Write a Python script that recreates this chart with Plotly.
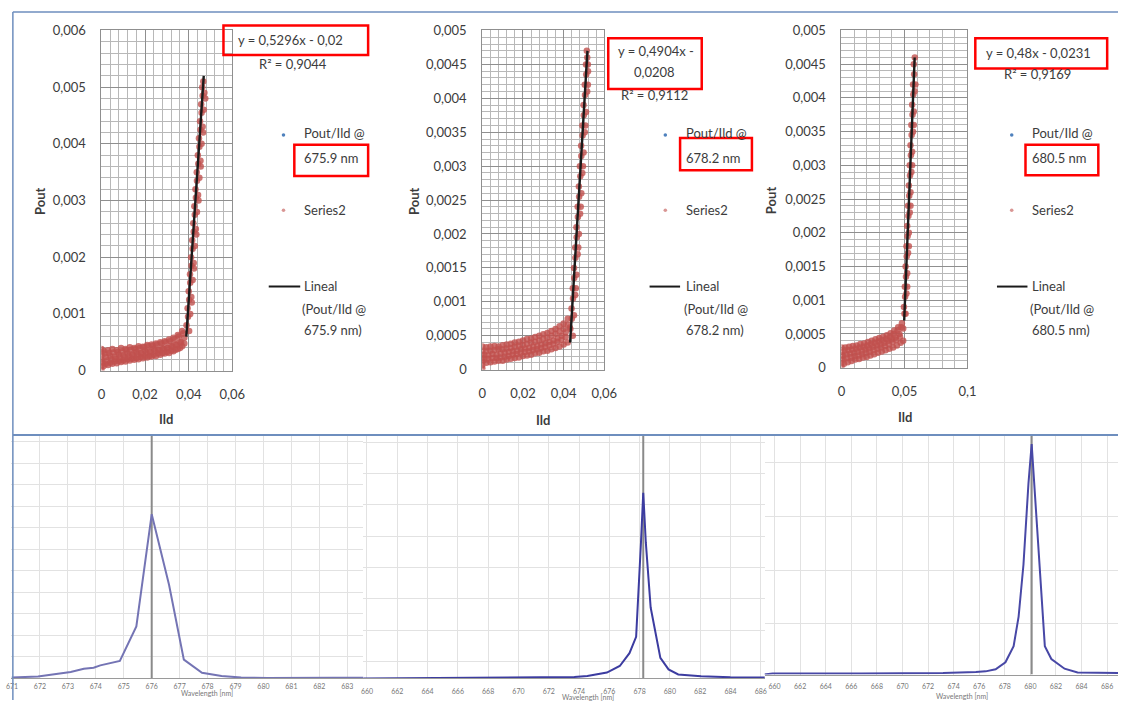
import plotly.graph_objects as go

W, H = 1131, 708

# ---------------- top row: Pout vs Ild (three wavelengths) ----------------
wavelength_labels = ["675.9 nm", "678.2 nm", "680.5 nm"]
equations = ["y = 0,5296x - 0,02", "y = 0,4904x -|0,0208", "y = 0,48x - 0,0231"]
r2_texts = ["R² = 0,9044", "R² = 0,9112", "R² = 0,9169"]

# Series2 points, panel 1 (675.9 nm): flat band then steep band
s1_x = [0, 0, 0, 0, 0, 0, 0,
        0.001, 0.002, 0.003, 0.004, 0.005, 0.006, 0.007, 0.008, 0.009, 0.010, 0.011, 0.012, 0.013,
        0.014, 0.015, 0.016, 0.017, 0.018, 0.019, 0.020, 0.021, 0.022, 0.023, 0.024, 0.025, 0.026,
        0.027, 0.028, 0.029, 0.030, 0.031, 0.032, 0.033, 0.034, 0.035, 0.036, 0.037, 0.038,
        0.002, 0.004, 0.006, 0.008, 0.010, 0.012, 0.014, 0.016, 0.018, 0.020, 0.022, 0.024, 0.026,
        0.028, 0.030, 0.032, 0.034, 0.036, 0.038,
        0.001, 0.003, 0.005, 0.007, 0.009, 0.011, 0.013, 0.015, 0.017, 0.019, 0.021, 0.023, 0.025,
        0.027, 0.029, 0.031, 0.033, 0.035, 0.037,
        0.0390, 0.0397, 0.0402, 0.0395, 0.0402, 0.0407, 0.0400, 0.0407, 0.0412, 0.0406, 0.0413,
        0.0418, 0.0411, 0.0418, 0.0423, 0.0416, 0.0423, 0.0428, 0.0421, 0.0428, 0.0433, 0.0426,
        0.0433, 0.0438, 0.0431, 0.0438, 0.0443, 0.0437, 0.0444, 0.0449, 0.0442, 0.0449, 0.0454,
        0.0447, 0.0454, 0.0459, 0.0452, 0.0459, 0.0464, 0.0457, 0.0464, 0.0469, 0.0462, 0.0467,
        0.0472]
s1_y = [0.00002, 0.00008, 0.00014, 0.0002, 0.00026, 0.00032, 0.00038,
        0.00008, 0.00012, 0.0001, 0.00014, 0.00012, 0.00016, 0.00013, 0.00017, 0.00015, 0.00018,
        0.00016, 0.0002, 0.00018, 0.00021, 0.00019, 0.00022, 0.0002, 0.00024, 0.00022, 0.00025,
        0.00023, 0.00026, 0.00025, 0.00028, 0.00026, 0.0003, 0.00028, 0.00031, 0.0003, 0.00033,
        0.00031, 0.00035, 0.00034, 0.00037, 0.00038, 0.0004, 0.00043, 0.00048,
        0.00024, 0.00026, 0.00025, 0.00028, 0.00027, 0.0003, 0.00029, 0.00033, 0.00031, 0.00035,
        0.00034, 0.00038, 0.00037, 0.0004, 0.0004, 0.00044, 0.00046, 0.0005, 0.00058,
        0.00035, 0.00036, 0.00038, 0.00036, 0.0004, 0.00038, 0.00041, 0.0004, 0.00043, 0.00042,
        0.00045, 0.00046, 0.00048, 0.0005, 0.00052, 0.00055, 0.00058, 0.00063, 0.0007,
        0.0008, 0.00095, 0.0007, 0.0011, 0.00125, 0.0010, 0.0014, 0.00155, 0.0013, 0.0017, 0.00185,
        0.0016, 0.0020, 0.00215, 0.0019, 0.0023, 0.00245, 0.0022, 0.0026, 0.00275, 0.0025, 0.0029,
        0.00305, 0.0028, 0.0032, 0.00335, 0.0031, 0.0035, 0.00365, 0.0034, 0.0038, 0.00395, 0.0037,
        0.0041, 0.00425, 0.0040, 0.0044, 0.00455, 0.0043, 0.0047, 0.00485, 0.0046, 0.0050, 0.0051,
        0.0049]
s1_extra_x = [0.0005, 0.0025, 0.0045, 0.0065, 0.0085, 0.0105, 0.0125, 0.0145, 0.0165, 0.0185,
              0.0205, 0.0225, 0.0245, 0.0265, 0.0285, 0.0305, 0.0325, 0.0345, 0.0365,
              0.0015, 0.0035, 0.0055, 0.0075, 0.0095, 0.0115, 0.0135, 0.0155, 0.0175, 0.0195,
              0.0215, 0.0235, 0.0255, 0.0275, 0.0295, 0.0315, 0.0335, 0.0355, 0.0375,
              0.0414, 0.0424, 0.0435, 0.0445, 0.0455, 0.0466, 0.0476]
s1_extra_y = [0.00015, 0.00018, 0.0002, 0.00021, 0.00023, 0.00024, 0.00026, 0.00027, 0.00029,
              0.0003, 0.00032, 0.00033, 0.00035, 0.00036, 0.00038, 0.0004, 0.00042, 0.00045, 0.0005,
              0.0003, 0.00031, 0.00032, 0.00033, 0.00034, 0.00036, 0.00037, 0.00038, 0.0004,
              0.00041, 0.00043, 0.00044, 0.00046, 0.00048, 0.0005, 0.00052, 0.00055, 0.0006,
              0.00066,
              0.0012, 0.0018, 0.0024, 0.0030, 0.0036, 0.0042, 0.0048]

# Series2 points, panel 2 (678.2 nm)
s2_x = [0, 0, 0, 0, 0, 0, 0,
        0.002, 0.004, 0.006, 0.008, 0.010, 0.012, 0.014, 0.016, 0.018, 0.020, 0.022, 0.024, 0.026,
        0.028, 0.030, 0.032, 0.034, 0.036, 0.038, 0.040, 0.042,
        0.001, 0.003, 0.005, 0.007, 0.009, 0.011, 0.013, 0.015, 0.017, 0.019, 0.021, 0.023, 0.025,
        0.027, 0.029, 0.031, 0.033, 0.035, 0.037, 0.039, 0.041, 0.043,
        0.002, 0.004, 0.006, 0.008, 0.010, 0.012, 0.014, 0.016, 0.018, 0.020, 0.022, 0.024, 0.026,
        0.028, 0.030, 0.032, 0.034, 0.036, 0.038, 0.040, 0.042,
        0.0433, 0.0440, 0.0445, 0.0439, 0.0446, 0.0451, 0.0445, 0.0452, 0.0457, 0.0451, 0.0458,
        0.0463, 0.0457, 0.0464, 0.0469, 0.0463, 0.0470, 0.0475, 0.0469, 0.0476, 0.0481, 0.0475,
        0.0482, 0.0487, 0.0480, 0.0487, 0.0492, 0.0486, 0.0493, 0.0498, 0.0492, 0.0499, 0.0504,
        0.0498, 0.0505, 0.0510, 0.0504, 0.0511, 0.0516, 0.0510, 0.0516, 0.0520, 0.0514, 0.0519]
s2_y = [0.00002, 0.00007, 0.00012, 0.00017, 0.00022, 0.00028, 0.00034,
        0.0001, 0.00011, 0.00012, 0.00013, 0.00013, 0.00015, 0.00016, 0.00017, 0.00018, 0.0002,
        0.00021, 0.00022, 0.00024, 0.00025, 0.00027, 0.00028, 0.0003, 0.00032, 0.00034, 0.00037,
        0.0004,
        0.00022, 0.00021, 0.00023, 0.00022, 0.00024, 0.00025, 0.00026, 0.00027, 0.00028, 0.0003,
        0.00031, 0.00032, 0.00034, 0.00035, 0.00037, 0.00039, 0.00041, 0.00043, 0.00046, 0.0005,
        0.00055, 0.00062,
        0.00033, 0.00034, 0.00035, 0.00034, 0.00036, 0.00037, 0.00038, 0.0004, 0.00041, 0.00043,
        0.00045, 0.00046, 0.00048, 0.0005, 0.00052, 0.00054, 0.00057, 0.0006, 0.00064, 0.00068,
        0.00075,
        0.0006, 0.00075, 0.0005, 0.0009, 0.00105, 0.0008, 0.0012, 0.00135, 0.0011, 0.0015, 0.00165,
        0.0014, 0.0018, 0.00195, 0.0017, 0.0021, 0.00225, 0.002, 0.0024, 0.00255, 0.0023, 0.0027,
        0.00285, 0.0026, 0.0030, 0.00315, 0.0029, 0.0033, 0.00345, 0.0032, 0.0036, 0.00375, 0.0035,
        0.0039, 0.00405, 0.0038, 0.0042, 0.00435, 0.0041, 0.0045, 0.0046, 0.0044, 0.0047, 0.0045]
s2_extra_x = [0.001, 0.003, 0.005, 0.007, 0.009, 0.011, 0.013, 0.015, 0.017, 0.019, 0.021,
              0.023, 0.025, 0.027, 0.029, 0.031, 0.033, 0.035, 0.037, 0.039, 0.041,
              0.002, 0.004, 0.006, 0.008, 0.010, 0.012, 0.014, 0.016, 0.018, 0.020, 0.022,
              0.024, 0.026, 0.028, 0.030, 0.032, 0.034, 0.036, 0.038, 0.040, 0.042,
              0.0460, 0.0472, 0.0484, 0.0495, 0.0507, 0.0519]
s2_extra_y = [0.00015, 0.00016, 0.00017, 0.00017, 0.00018, 0.00019, 0.0002, 0.00022, 0.00023,
              0.00025, 0.00026, 0.00027, 0.00029, 0.0003, 0.00032, 0.00034, 0.00036, 0.00038,
              0.00041, 0.00044, 0.00048,
              0.00028, 0.00028, 0.00029, 0.0003, 0.0003, 0.00031, 0.00032, 0.00034, 0.00035,
              0.00036, 0.00038, 0.0004, 0.00041, 0.00043, 0.00045, 0.00047, 0.0005, 0.00053,
              0.00056, 0.0006, 0.00066,
              0.0012, 0.0018, 0.0024, 0.0030, 0.0036, 0.0042]

# Series2 points, panel 3 (680.5 nm)
s3_x = [0, 0, 0, 0, 0, 0,
        0.002, 0.005, 0.008, 0.011, 0.014, 0.017, 0.020, 0.023, 0.026, 0.029, 0.032, 0.035, 0.038,
        0.041, 0.044, 0.047, 0.049,
        0.001, 0.004, 0.007, 0.010, 0.013, 0.016, 0.019, 0.022, 0.025, 0.028, 0.031, 0.034, 0.037,
        0.040, 0.043, 0.046, 0.049,
        0.003, 0.006, 0.009, 0.012, 0.015, 0.018, 0.021, 0.024, 0.027, 0.030, 0.033, 0.036, 0.039,
        0.042, 0.045, 0.048, 0.050,
        0.0496, 0.0505, 0.0509, 0.0503, 0.0512, 0.0516, 0.0509, 0.0518, 0.0522, 0.0516, 0.0525,
        0.0529, 0.0522, 0.0531, 0.0535, 0.0529, 0.0538, 0.0542, 0.0535, 0.0544, 0.0548, 0.0542,
        0.0551, 0.0555, 0.0548, 0.0557, 0.0561, 0.0555, 0.0564, 0.0568, 0.0561, 0.0570, 0.0574,
        0.0568, 0.0577, 0.0581, 0.0574, 0.0582]
s3_y = [0.00002, 0.00007, 0.00012, 0.00018, 0.00024, 0.0003,
        0.00006, 0.00008, 0.0001, 0.00012, 0.00013, 0.00015, 0.00016, 0.00018, 0.0002, 0.00022,
        0.00024, 0.00026, 0.00028, 0.0003, 0.00033, 0.00037, 0.0004,
        0.00018, 0.0002, 0.00021, 0.00022, 0.00024, 0.00025, 0.00027, 0.00029, 0.00031, 0.00033,
        0.00035, 0.00037, 0.0004, 0.00042, 0.00045, 0.0005, 0.00058,
        0.0003, 0.00031, 0.00032, 0.00033, 0.00035, 0.00036, 0.00038, 0.0004, 0.00042, 0.00044,
        0.00046, 0.00048, 0.00051, 0.00055, 0.0006, 0.00066, 0.0008,
        0.0009, 0.00105, 0.0008, 0.0012, 0.00135, 0.0011, 0.0015, 0.00165, 0.0014, 0.0018, 0.00195,
        0.0017, 0.0021, 0.00225, 0.002, 0.0024, 0.00255, 0.0023, 0.0027, 0.00285, 0.0026, 0.0030,
        0.00315, 0.0029, 0.0033, 0.00345, 0.0032, 0.0036, 0.00375, 0.0035, 0.0039, 0.00405, 0.0038,
        0.0042, 0.00435, 0.0041, 0.0045, 0.0046]
s3_extra_x = [0.0015, 0.0045, 0.0075, 0.0105, 0.0135, 0.0165, 0.0195, 0.0225, 0.0255, 0.0285,
              0.0315, 0.0345, 0.0375, 0.0405, 0.0435, 0.0465,
              0.0025, 0.0055, 0.0085, 0.0115, 0.0145, 0.0175, 0.0205, 0.0235, 0.0265, 0.0295,
              0.0325, 0.0355, 0.0385, 0.0415, 0.0445, 0.0475,
              0.0522, 0.0535, 0.0548, 0.0561, 0.0574, 0.0587]
s3_extra_y = [0.00012, 0.00014, 0.00015, 0.00017, 0.00018, 0.0002, 0.00022, 0.00024, 0.00026,
              0.00028, 0.0003, 0.00032, 0.00035, 0.00038, 0.00041, 0.00046,
              0.00025, 0.00026, 0.00027, 0.00028, 0.0003, 0.00031, 0.00033, 0.00035, 0.00037,
              0.00039, 0.00041, 0.00043, 0.00046, 0.0005, 0.00055, 0.0006,
              0.0012, 0.0018, 0.0024, 0.0030, 0.0036, 0.0042]

trend1_x, trend1_y = [0.0389, 0.0469], [0.0006, 0.0052]
trend2_x, trend2_y = [0.0432, 0.0517], [0.0004, 0.0047]
trend3_x, trend3_y = [0.0498, 0.0581], [0.0007, 0.0046]

p1_yticks = [0, 0.001, 0.002, 0.003, 0.004, 0.005, 0.006]
p1_ylabels = ["0", "0,001", "0,002", "0,003", "0,004", "0,005", "0,006"]
p23_yticks = [0, 0.0005, 0.001, 0.0015, 0.002, 0.0025, 0.003, 0.0035, 0.004, 0.0045, 0.005]
p23_ylabels = ["0", "0,0005", "0,001", "0,0015", "0,002", "0,0025", "0,003", "0,0035",
               "0,004", "0,0045", "0,005"]
p12_xticks = [0, 0.02, 0.04, 0.06]
p12_xlabels = ["0", "0,02", "0,04", "0,06"]
p3_xticks = [0, 0.05, 0.1]
p3_xlabels = ["0", "0,05", "0,1"]

# ---------------- bottom row: spectra ----------------
specA_nm = [670.99, 671.93, 673.10, 673.57, 673.92, 674.16, 674.86, 675.45, 676.0, 676.62,
            677.15, 677.80, 678.5, 679.2, 680.14, 681.32, 682.48, 683.66]
specA_int = [0.05, 0.09, 0.30, 0.45, 0.5, 0.61, 0.82, 2.42, 7.64, 4.36, 0.88, 0.27, 0.12, 0.05,
             0.02, 0.01, 0.03, 0.03]
specB_nm = [659.75, 668.97, 673.69, 674.55, 675.84, 676.69, 677.33, 677.77, 677.94, 678.09,
            678.24, 678.41, 678.73, 679.37, 679.91, 680.55, 682.06, 683.99, 686.77]
specB_int = [0.0, 0.03, 0.05, 0.08, 0.19, 0.40, 0.81, 1.33, 2.79, 4.35, 5.94, 4.35, 2.27, 0.66,
             0.29, 0.13, 0.07, 0.04, 0.03]
specC_nm = [659.08, 659.85, 666.77, 673.18, 675.74, 676.5, 677.28, 678.05, 678.69, 679.08,
            679.46, 679.85, 680.1, 680.31, 680.62, 681.13, 681.64, 682.67, 683.69, 684.72, 686.85]
specC_int = [0.0, 0.02, 0.02, 0.03, 0.05, 0.06, 0.1, 0.23, 0.53, 1.08, 2.05, 3.56, 4.29, 3.56,
             2.35, 0.53, 0.29, 0.11, 0.04, 0.04, 0.03]
cursor_nm = [676.0, 678.24, 680.1]

specA_ticks = [671, 672, 673, 674, 675, 676, 677, 678, 679, 680, 681, 682, 683]
specBC_ticks = [660, 662, 664, 666, 668, 670, 672, 674, 676, 678, 680, 682, 684, 686]


def px(x):
    return x / W


def py(y):
    return 1 - y / H


FONT = "Lato, 'Open Sans', sans-serif"
TXT = "#3c3c3c"
RED = "#C0504D"

fig = go.Figure()

top_sets = [
    (s1_x + s1_extra_x, s1_y + s1_extra_y, trend1_x, trend1_y, "x", "y"),
    (s2_x + s2_extra_x, s2_y + s2_extra_y, trend2_x, trend2_y, "x2", "y2"),
    (s3_x + s3_extra_x, s3_y + s3_extra_y, trend3_x, trend3_y, "x3", "y3"),
]
for sx, sy, tx, ty, xa, ya in top_sets:
    fig.add_trace(go.Scatter(x=sx, y=sy, mode="markers", xaxis=xa, yaxis=ya,
                             marker=dict(size=6.5, color=RED, opacity=0.8,
                                         line=dict(width=0)),
                             showlegend=False, hoverinfo="skip"))
    fig.add_trace(go.Scatter(x=tx, y=ty, mode="lines", xaxis=xa, yaxis=ya,
                             line=dict(color="#1a1a1a", width=2.4),
                             showlegend=False, hoverinfo="skip"))

spec_sets = [
    (specA_nm, specA_int, "x4", "y4", "#7474B4", 11.27),
    (specB_nm, specB_int, "x5", "y5", "#3C3CA0", 7.75),
    (specC_nm, specC_int, "x6", "y6", "#4848A6", 4.44),
]
for (nm, inten, xa, ya, col, top), cur in zip(spec_sets, cursor_nm):
    fig.add_trace(go.Scatter(x=[cur, cur], y=[0, top], mode="lines", xaxis=xa, yaxis=ya,
                             line=dict(color="#8a8a8a", width=2),
                             showlegend=False, hoverinfo="skip"))
    fig.add_trace(go.Scatter(x=nm, y=inten, mode="lines", xaxis=xa, yaxis=ya,
                             line=dict(color=col, width=2),
                             showlegend=False, hoverinfo="skip"))

grid_major = "#8f8f8f"
grid_minor = "#b8b8b8"


def top_x(dom, rng, tv, tt, minor, anchor):
    return dict(domain=dom, range=rng, tickvals=tv, ticktext=tt, showgrid=True,
                gridcolor=grid_major, gridwidth=1, zeroline=False, showline=True,
                linecolor=grid_major, mirror=True, ticks="", anchor=anchor,
                minor=dict(dtick=minor, showgrid=True, gridcolor=grid_minor, gridwidth=1),
                tickfont=dict(family=FONT, size=13, color=TXT), ticklabelstandoff=12)


def top_y(dom, rng, tv, tt, minor, anchor):
    return dict(domain=dom, range=rng, tickvals=tv, ticktext=tt, showgrid=True,
                gridcolor=grid_major, gridwidth=1, zeroline=False, showline=True,
                linecolor=grid_major, mirror=True, ticks="", anchor=anchor,
                minor=dict(dtick=minor, showgrid=True, gridcolor=grid_minor, gridwidth=1),
                tickfont=dict(family=FONT, size=13, color=TXT), ticklabelstandoff=12)


def spec_x(dom, rng, tv, anchor, standoff):
    return dict(domain=dom, range=rng, tickvals=tv, ticktext=[str(v) for v in tv],
                showgrid=True, gridcolor="#e2e2e2", zeroline=False, showline=True,
                linecolor="#9a9a9a", ticks="", anchor=anchor,
                tickfont=dict(family=FONT, size=7, color="#777777"), ticklabelstandoff=standoff)


def spec_y(dom, rng, t0, anchor):
    return dict(domain=dom, range=rng, tick0=t0, dtick=1, showgrid=True, gridcolor="#e2e2e2",
                zeroline=False, showticklabels=False, ticks="", anchor=anchor, showline=False)


fig.update_layout(
    width=W, height=H, margin=dict(l=0, r=0, t=0, b=0),
    paper_bgcolor="white", plot_bgcolor="white", showlegend=False,
    xaxis=top_x([px(98), px(231)], [0, 0.06], p12_xticks, p12_xlabels, 0.004, "y"),
    yaxis=top_y([py(371), py(23)], [0, 0.006], p1_yticks, p1_ylabels, 0.0002, "x"),
    xaxis2=top_x([px(485), px(609)], [0, 0.06], p12_xticks, p12_xlabels, 0.004, "y2"),
    yaxis2=top_y([py(370), py(23)], [0, 0.005], p23_yticks, p23_ylabels, 0.0001, "x2"),
    xaxis3=top_x([px(850), px(978)], [0, 0.1], p3_xticks, p3_xlabels, 0.01, "y3"),
    yaxis3=top_y([py(368), py(23)], [0, 0.005], p23_yticks, p23_ylabels, 0.0001, "x3"),
    xaxis4=spec_x([px(6), px(364)], [670.96, 683.57], specA_ticks, "y4", 1),
    yaxis4=spec_y([py(686), py(438)], [0, 11.27], 0, "x4"),
    xaxis5=spec_x([px(364), px(772)], [659.75, 686.26], specBC_ticks, "y5", 6),
    yaxis5=spec_y([py(686), py(438)], [0, 7.75], 0.55, "x5"),
    xaxis6=spec_x([px(772), px(1131)], [659.23, 686.85], specBC_ticks, "y6", 5),
    yaxis6=spec_y([py(682), py(438)], [0, 4.44], 0.945, "x6"),
)

ann = []
shapes = []


def text(x, y, s, size=13, bold=False, anchor="left", color=TXT, angle=0):
    ann.append(dict(x=px(x), y=py(y), xref="paper", yref="paper",
                    text=f"<b>{s}</b>" if bold else s,
                    showarrow=False, xanchor=anchor, yanchor="middle", textangle=angle,
                    font=dict(family=FONT, size=size, color=color)))


def box(x0, y0, x1, y1, color="#FF0000", w=2.5):
    shapes.append(dict(type="rect", xref="paper", yref="paper", x0=px(x0), y0=py(y1),
                       x1=px(x1), y1=py(y0), line=dict(color=color, width=w)))


def dot(x, y, color, r=1.8):
    shapes.append(dict(type="circle", xref="paper", yref="paper", x0=px(x - r), x1=px(x + r),
                       y0=py(y + r), y1=py(y - r), fillcolor=color, line=dict(width=0)))


def seg(x0, y0, x1, y1, color="#1a1a1a", w=2):
    shapes.append(dict(type="line", xref="paper", yref="paper", x0=px(x0), x1=px(x1),
                       y0=py(y0), y1=py(y1), line=dict(color=color, width=w)))


# frames
FRAME = "#6E8EBE"
seg(8, 4, 1131, 4, FRAME, 1.5)
seg(8, 437, 1131, 437, FRAME, 2)
seg(8, 4, 8, 708, FRAME, 1.5)

# axis titles
for xc, yx, pxc in [(164, 421, 35), (547, 422, 415), (915, 418, 778)]:
    text(xc, yx, "Ild", bold=True, anchor="center")
    text(pxc, 197, "Pout", bold=True, anchor="center", angle=-90)

# legends
leg = [
    dict(tx=302, dotx=283, lx0=268, lx1=300, box=(294, 140, 369, 172)),
    dict(tx=690, dotx=671, lx0=655, lx1=686, box=(686, 133, 759, 166)),
    dict(tx=1042, dotx=1023, lx0=1008, lx1=1039, box=(1037, 140, 1111, 171)),
]
for L, wl in zip(leg, wavelength_labels):
    dot(L["dotx"], 130, "#4F81BD")
    text(L["tx"], 128, "Pout/Ild @")
    text(L["tx"], 153, wl)
    box(*L["box"])
    dot(L["dotx"], 207, "#D99694")
    text(L["tx"], 207, "Series2")
    seg(L["lx0"], 285, L["lx1"], 285)
    text(L["tx"], 284, "Lineal")
    text(L["tx"] - 2, 308, "(Pout/Ild @")
    text(L["tx"], 329, wl + ")")

# equations
text(290, 33, equations[0], anchor="center")
text(293, 57, r2_texts[0], anchor="center")
box(222, 18, 369, 48)
e1, e2 = equations[1].split("|")
text(662, 44, e1, anchor="center")
text(660, 65, e2, anchor="center")
text(660, 89, r2_texts[1], anchor="center")
box(613, 31, 708, 83)
text(1050, 46, equations[2], anchor="center")
text(1049, 68, r2_texts[2], anchor="center")
box(986, 31, 1120, 62)

# spectra axis titles
text(205, 701, "Wavelength [nm]", size=7, anchor="center", color="#777777")
text(592, 705, "Wavelength [nm]", size=7, anchor="center", color="#777777")
text(972, 704, "Wavelength [nm]", size=7, anchor="center", color="#777777")

fig.update_layout(annotations=ann, shapes=shapes)

fig.write_html("out.html", config={"displayModeBar": False},
               post_script="document.body.style.margin='0px';")
